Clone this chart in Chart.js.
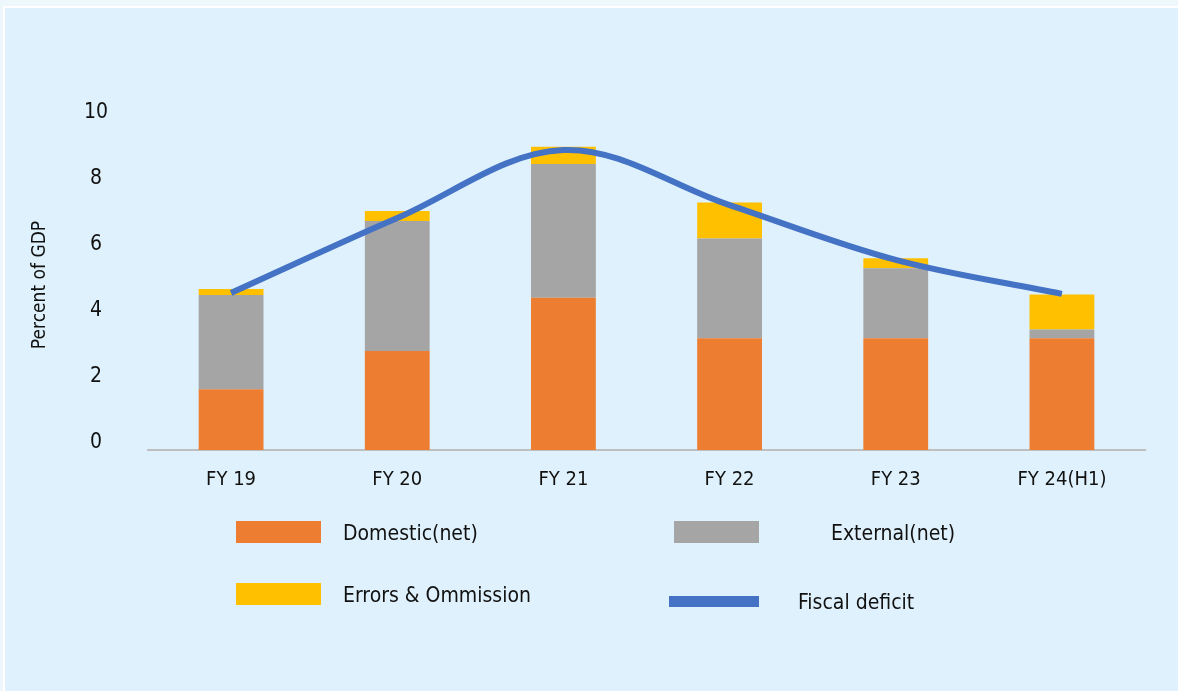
<!DOCTYPE html>
<html>
<head>
<meta charset="utf-8">
<script src="https://cdn.jsdelivr.net/npm/chart.js@4/dist/chart.umd.min.js"></script>
<style>
  html, body { margin: 0; padding: 0; }
  body { width: 1178px; height: 691px; background: #EEF7FC; position: relative; overflow: hidden; }
  #panel { position: absolute; left: 3px; top: 6px; right: 0; bottom: 0;
           background: #DFF1FC; border-left: 2px solid #ffffff; border-top: 2px solid #ffffff; }
  #wrap { position: absolute; left: 0; top: 0; width: 1178px; height: 691px; }
</style>
</head>
<body>
<div id="panel"></div>
<div id="wrap"><canvas id="c" width="1178" height="691"></canvas></div>
<script>
// Financing of the fiscal deficit, percent of GDP
const categories = ['FY 19', 'FY 20', 'FY 21', 'FY 22', 'FY 23', 'FY 24(H1)'];
const domesticNet = [1.84, 3.00, 4.61, 3.39, 3.39, 3.39];
const externalNet = [2.86, 3.94, 4.06, 3.02, 2.12, 0.26];
const errorsOmission = [0.18, 0.30, 0.52, 1.09, 0.30, 1.06];
const fiscalDeficit = [4.76, 7.03, 9.09, 7.42, 5.76, 4.73];
const yTicks = [0, 2, 4, 6, 8, 10];

const FONT = '"Liberation Sans Narrow", "DejaVu Sans Condensed", "Open Sans", sans-serif';
const TEXT = '#111111';

// Legend laid out as a two-by-two grid under the plot
const legendPlugin = {
  id: 'gridLegend',
  afterDraw(chart) {
    const ctx = chart.ctx;
    const ds = chart.data.datasets;
    const slots = [
      { i: 0, box: [236, 521, 85, 22], tx: 343, ty: 535 },
      { i: 1, box: [674, 521, 85, 22], tx: 831, ty: 535 },
      { i: 2, box: [236, 583, 85, 22], tx: 343, ty: 597 },
      { i: 3, box: [669, 596, 90, 11], tx: 798, ty: 604 }
    ];
    ctx.save();
    ctx.font = '21px ' + FONT;
    ctx.textBaseline = 'middle';
    ctx.textAlign = 'left';
    slots.forEach(s => {
      const d = ds[s.i];
      ctx.fillStyle = d.type === 'line' ? d.borderColor : d.backgroundColor;
      ctx.fillRect(s.box[0], s.box[1], s.box[2], s.box[3]);
      ctx.fillStyle = TEXT;
      ctx.fillText(d.label, s.tx, s.ty);
    });
    ctx.restore();
  }
};

new Chart(document.getElementById('c'), {
  data: {
    labels: categories,
    datasets: [
      { type: 'bar', label: 'Domestic(net)', data: domesticNet, backgroundColor: '#ED7D31', order: 1, stack: 'fin' },
      { type: 'bar', label: 'External(net)', data: externalNet, backgroundColor: '#A5A5A5', order: 1, stack: 'fin' },
      { type: 'bar', label: 'Errors & Ommission', data: errorsOmission, backgroundColor: '#FFC000', order: 1, stack: 'fin' },
      { type: 'line', label: 'Fiscal deficit', data: fiscalDeficit, borderColor: '#4472C4', backgroundColor: '#4472C4',
        borderWidth: 6, pointRadius: 0, tension: 0.35, order: 0, stack: 'deficit', borderCapStyle: 'butt' }
    ]
  },
  options: {
    responsive: false,
    animation: false,
    layout: { padding: { top: 120, right: 33, bottom: 0, left: 0 } },
    datasets: { bar: { barPercentage: 0.39, categoryPercentage: 1.0 } },
    plugins: { legend: { display: false }, tooltip: { enabled: false } },
    scales: {
      x: {
        stacked: true,
        grid: { display: false, drawTicks: false },
        border: { display: true, color: '#BFBFBF', width: 2 },
        ticks: { color: TEXT, font: { family: FONT, size: 20 }, padding: 18, maxRotation: 0 },
        afterFit(s) { s.height = 241; }
      },
      y: {
        stacked: true,
        min: 0,
        max: 10,
        afterBuildTicks(s) { s.ticks = yTicks.map(v => ({ value: v })); },
        grid: { display: false, drawTicks: false },
        border: { display: false },
        ticks: { color: TEXT, font: { family: FONT, size: 21 }, padding: 40, labelOffset: -7, crossAlign: 'center' },
        title: { display: true, text: 'Percent of GDP', color: TEXT, font: { family: FONT, size: 19 }, padding: { top: 29, bottom: 0 } },
        afterFit(s) { s.width = 148; }
      }
    }
  },
  plugins: [legendPlugin]
});
</script>
</body>
</html>
